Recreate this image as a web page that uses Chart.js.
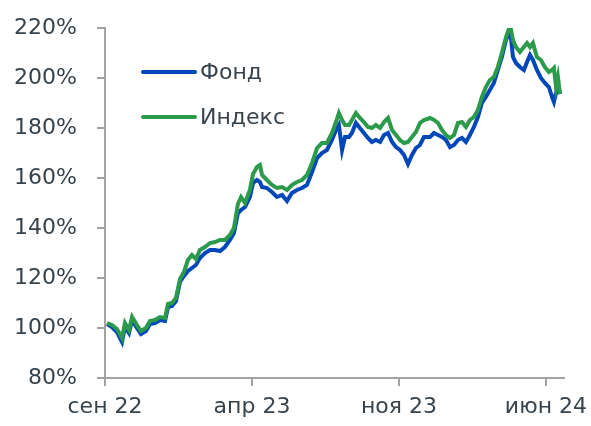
<!DOCTYPE html>
<html>
<head>
<meta charset="utf-8">
<script src="https://cdn.jsdelivr.net/npm/chart.js@4.4.1/dist/chart.umd.min.js"></script>
<style>
  html, body { margin: 0; padding: 0; background: #fff; }
  #wrap { width: 591px; height: 426px; }
</style>
</head>
<body>
<div id="wrap"><canvas id="chart"></canvas></div>
<script>
// Months since Sep 2022 (x position of each reading)
const months = [
  0.10, 0.33, 0.57, 0.81, 0.95, 1.14, 1.29, 1.52, 1.71, 1.95,
  2.14, 2.38, 2.62, 2.86, 3.00, 3.19, 3.38, 3.57, 3.76, 3.95,
  4.14, 4.33, 4.52, 4.76, 5.00, 5.24, 5.48, 5.71, 5.95, 6.14,
  6.33, 6.48, 6.67, 6.90, 7.05, 7.24, 7.38, 7.48, 7.71, 7.95,
  8.19, 8.43, 8.67, 8.90, 9.14, 9.38, 9.62, 9.86, 10.10, 10.33,
  10.57, 10.81, 11.00, 11.14, 11.29, 11.43, 11.62, 11.76, 11.95, 12.14,
  12.33, 12.52, 12.71, 12.90, 13.10, 13.29, 13.48, 13.67, 13.86, 14.05,
  14.24, 14.43, 14.62, 14.81, 15.00, 15.19, 15.48, 15.67, 15.86, 16.05,
  16.24, 16.43, 16.62, 16.81, 17.00, 17.19, 17.38, 17.57, 17.76, 17.95,
  18.14, 18.33, 18.52, 18.71, 18.90, 19.10, 19.24, 19.33, 19.43, 19.57,
  19.76, 19.95, 20.10, 20.24, 20.38, 20.57, 20.76, 20.95, 21.14, 21.29,
  21.38, 21.48, 21.57, 21.67
];

// Фонд, %
const fund = [
  101.6, 100.4, 98.4, 94.4, 100.4, 98.0, 103.2, 100.0, 97.6, 98.8,
  101.6, 102.0, 103.2, 102.8, 108.4, 108.8, 110.8, 118.4, 120.8, 122.8,
  124.0, 125.2, 128.0, 130.0, 131.2, 131.2, 130.8, 132.4, 135.2, 138.0,
  146.0, 147.2, 148.4, 152.4, 158.0, 159.2, 158.4, 156.4, 156.0, 154.4,
  152.4, 153.2, 150.8, 154.0, 155.2, 156.0, 157.2, 162.4, 168.0, 170.0,
  171.2, 175.2, 179.2, 181.2, 171.2, 176.4, 176.4, 178.0, 182.0, 180.0,
  178.0, 176.0, 174.4, 175.2, 174.4, 177.2, 178.0, 174.4, 172.4, 171.2,
  169.2, 165.6, 169.2, 172.0, 173.2, 176.4, 176.4, 178.0, 177.2, 176.4,
  175.2, 172.4, 173.2, 175.2, 176.0, 174.4, 177.2, 180.4, 184.4, 190.0,
  192.4, 195.2, 198.0, 203.2, 208.4, 215.2, 218.0, 216.4, 208.4, 206.0,
  204.4, 203.2, 206.4, 209.2, 207.2, 203.2, 200.0, 198.0, 196.4, 192.4,
  190.4, 194.0, 196.4, 193.6
];

// Индекс, %
const index = [
  102.0, 101.2, 99.6, 96.0, 102.0, 99.2, 104.4, 101.2, 98.8, 100.0,
  102.8, 103.2, 104.4, 104.0, 109.6, 110.0, 112.0, 119.6, 122.4, 127.2,
  129.2, 127.6, 131.2, 132.4, 134.0, 134.4, 135.2, 135.2, 137.2, 140.0,
  149.6, 152.4, 150.0, 155.2, 161.6, 164.4, 165.2, 161.2, 159.2, 157.2,
  156.0, 156.4, 155.2, 157.2, 158.4, 159.2, 161.2, 166.0, 172.0, 174.0,
  174.0, 178.0, 182.4, 186.0, 183.2, 181.2, 181.2, 183.2, 186.0, 184.0,
  182.4, 180.4, 180.0, 181.2, 180.0, 182.4, 184.0, 179.2, 177.2, 175.2,
  174.0, 174.4, 176.4, 178.4, 182.0, 183.2, 184.0, 183.2, 182.0, 179.2,
  177.2, 176.0, 177.2, 182.0, 182.4, 180.4, 183.2, 184.4, 187.2, 192.4,
  196.4, 199.2, 200.4, 204.4, 210.0, 216.4, 219.8, 219.6, 215.2, 212.4,
  210.4, 212.4, 214.0, 212.4, 214.0, 208.4, 207.2, 204.4, 202.4, 203.2,
  204.0, 196.4, 200.4, 193.6
];

// Tick labels on x (every 7 months)
const tickMonths = [0, 7, 14, 21];
const tickLabels = ['сен 22', 'апр 23', 'ноя 23', 'июн 24'];

const BLUE = '#0047ba';
const GREEN = '#2c9a4b';
const TEXT = '#36434d';
const AXIS = '#a3a3a3';
const FONT = { family: 'DejaVu Sans', size: 22 };

// Legend drawn inside the plot, upper left
const innerLegend = {
  id: 'innerLegend',
  afterDraw(chart) {
    const ctx = chart.ctx;
    const area = chart.chartArea;
    const rows = [chart.data.datasets[0], chart.data.datasets[1]];
    ctx.save();
    ctx.font = FONT.size + 'px "' + FONT.family + '"';
    ctx.textBaseline = 'middle';
    rows.forEach((ds, i) => {
      const y = area.top + 44 + i * 45;
      const x0 = area.left + 38;
      ctx.strokeStyle = ds.borderColor;
      ctx.lineWidth = 4;
      ctx.lineCap = 'round';
      ctx.beginPath();
      ctx.moveTo(x0, y);
      ctx.lineTo(x0 + 52, y);
      ctx.stroke();
      ctx.fillStyle = TEXT;
      ctx.fillText(ds.label, x0 + 57, y + 1);
    });
    ctx.restore();
  }
};

function xy(values) {
  return values.map((v, i) => ({ x: months[i], y: v }));
}

new Chart(document.getElementById('chart'), {
  type: 'line',
  data: {
    datasets: [
      {
        label: 'Фонд',
        data: xy(fund),
        borderColor: BLUE,
        borderWidth: 4,
        pointRadius: 0,
        tension: 0,
        order: 2
      },
      {
        label: 'Индекс',
        data: xy(index),
        borderColor: GREEN,
        borderWidth: 4,
        pointRadius: 0,
        tension: 0,
        order: 1
      }
    ]
  },
  options: {
    responsive: true,
    maintainAspectRatio: false,
    animation: false,
    layout: { padding: { top: 28, right: 27, left: 0, bottom: 0 } },
    plugins: {
      legend: { display: false },
      tooltip: { enabled: false }
    },
    scales: {
      x: {
        type: 'linear',
        min: 0,
        max: 21.86,
        afterBuildTicks(scale) {
          scale.ticks = tickMonths.map(v => ({ value: v }));
        },
        afterFit(scale) {
          scale.height = 48;
          scale.paddingLeft = 0;
          scale.paddingRight = 0;
        },
        ticks: {
          autoSkip: false,
          maxRotation: 0,
          padding: 8,
          color: TEXT,
          font: FONT,
          callback: (v) => tickLabels[tickMonths.indexOf(v)]
        },
        grid: {
          display: true,
          drawOnChartArea: false,
          drawTicks: true,
          tickLength: 8,
          color: AXIS,
          lineWidth: 2
        },
        border: { display: true, color: AXIS, width: 2 }
      },
      y: {
        min: 80,
        max: 220,
        afterFit(scale) {
          scale.width = 105;
          scale.paddingTop = 0;
          scale.paddingBottom = 0;
        },
        ticks: {
          stepSize: 20,
          padding: 20,
          color: TEXT,
          font: FONT,
          callback: (v) => v + '%'
        },
        grid: {
          display: true,
          drawOnChartArea: false,
          drawTicks: true,
          tickLength: 8,
          color: AXIS,
          lineWidth: 2
        },
        border: { display: true, color: AXIS, width: 2 }
      }
    }
  },
  plugins: [innerLegend]
});
</script>
</body>
</html>
